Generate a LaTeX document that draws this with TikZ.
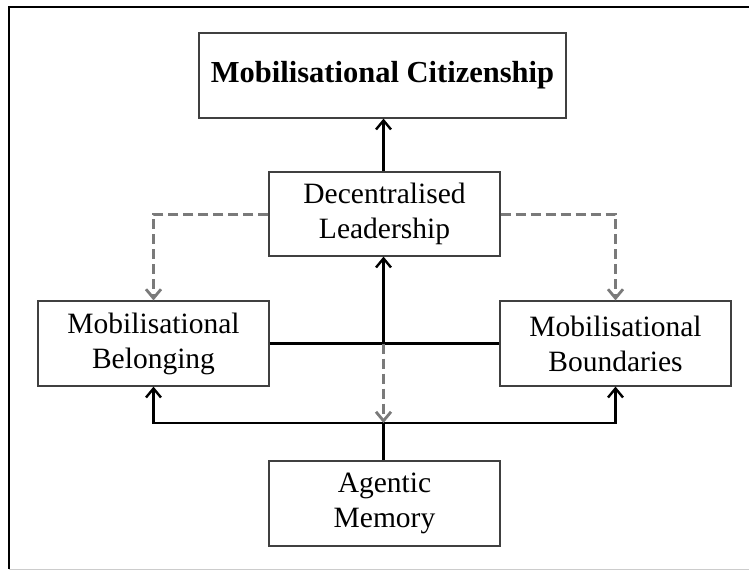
\documentclass[tikz,border=0pt]{standalone}
\usepackage{fontspec}
\setmainfont{Liberation Serif}
\usetikzlibrary{arrows.meta}
\begin{document}
\begin{tikzpicture}[x=1pt,y=-1pt,
  box/.style={draw=black!75,line width=1.2pt,inner sep=0pt,align=center,
    minimum width=231pt,minimum height=85pt,font=\fontsize{29.5}{35}\selectfont},
  solidarrow/.style={draw=black,line width=2.4pt,-{Straight Barb[length=9pt,width=15pt,line width=2.4pt]}},
  solidline/.style={draw=black,line width=2.4pt},
  dasharrow/.style={draw=black!52,line width=3pt,dash pattern=on 10pt off 5pt,
    -{Straight Barb[length=9pt,width=15pt,line width=2.8pt]}}]
\useasboundingbox (0,0) rectangle (749,571);
% frame
\draw[line width=2pt] (9,569) -- (9,6.5) -- (749,6.5);
\draw[black!20,line width=1.5pt] (9,569.5) -- (749,569.5);
% nodes
\node[box,minimum width=367pt,font=\bfseries\fontsize{30.5}{36}\selectfont] (mc) at (382.5,75.5) {Mobilisational Citizenship};
\node[box,minimum height=84pt] (dl) at (384.5,214) {Decentralised\\Leadership};
\node[box] (mbe) at (153.5,343.5) {Mobilisational\\Belonging};
\node[box] (mbo) at (615.5,343.5) {Mobilisational\\Boundaries};
\node[box] (am) at (384.5,503.5) {Agentic\\Memory};
\coordinate (j) at (383.5,343.5);
\coordinate (bus) at (383.5,423);
% connectors
\draw[solidarrow] (dl.north -| j) -- (mc.south -| j);
\draw[dasharrow] (dl.west) -| (mbe.north);
\draw[dasharrow] (dl.east) -| (mbo.north);
\draw[solidline] (mbe.east) -- (mbo.west);
\draw[solidarrow] (j) -- (dl.south -| j);
\draw[solidline] (am.north -| bus) -- (bus);
\draw[solidarrow] (bus) -| (mbe.south);
\draw[solidarrow] (bus) -| (mbo.south);
\draw[dasharrow] (j) -- (bus);
\end{tikzpicture}
\end{document}
